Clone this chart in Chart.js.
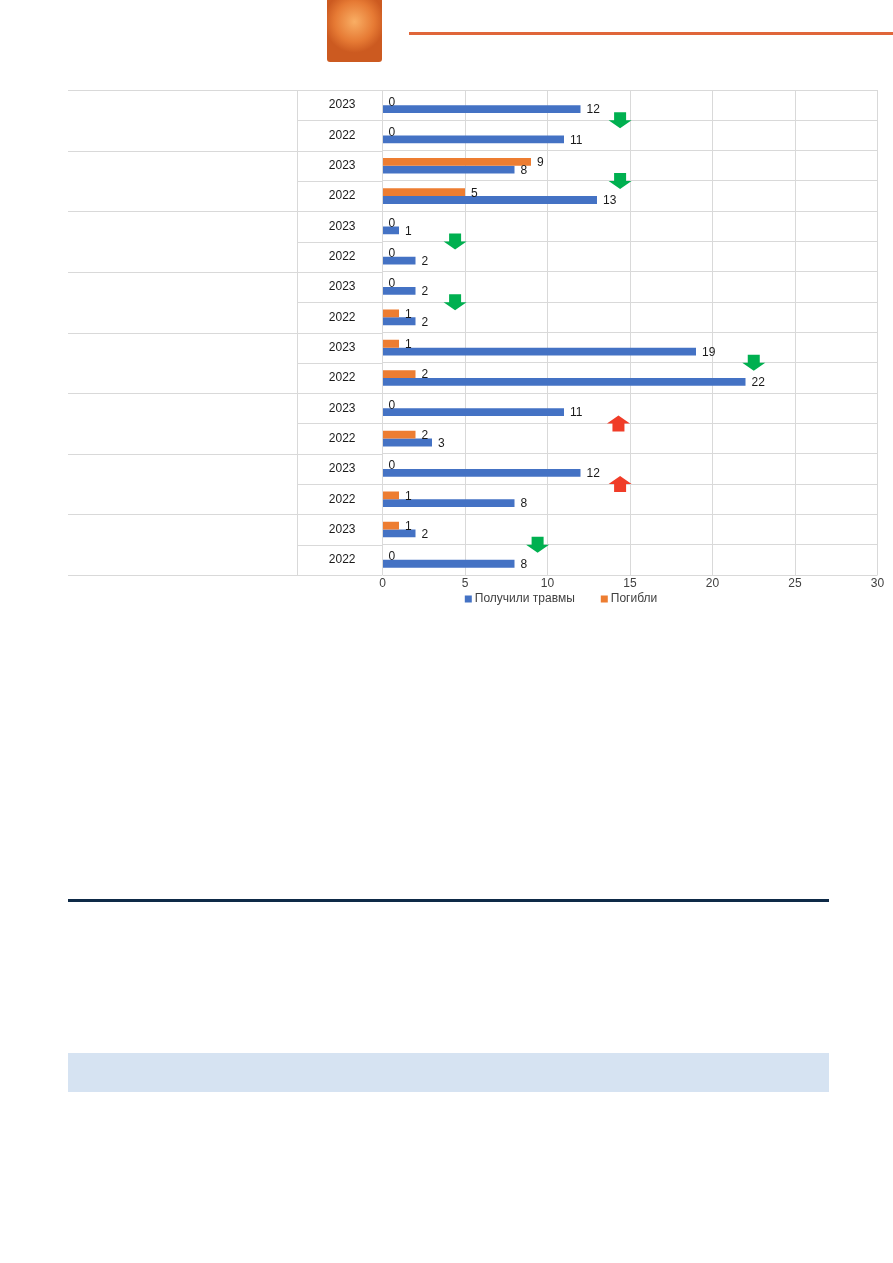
<!DOCTYPE html>
<html lang="ru">
<head>
<meta charset="utf-8">
<title>Получили травмы и погибли, 2022–2023</title>
<script src="https://cdn.jsdelivr.net/npm/chart.js@4/dist/chart.umd.min.js"></script>
<style>
  html, body { margin: 0; padding: 0; background: #fff; }
  body { width: 893px; height: 1263px; position: relative; overflow: hidden; }
  .tab {
    position: absolute; left: 327px; top: 0; width: 55px; height: 62px;
    border-radius: 0 0 3px 3px;
    background: radial-gradient(ellipse 55% 50% at 50% 35%, #f9ae64 0%, #e67a34 65%, #cc5a20 100%);
  }
  .rule-top { position: absolute; left: 409px; top: 32px; width: 484px; height: 3px; background: #e0663a; }
  .rule-navy { position: absolute; left: 68px; top: 899px; width: 761px; height: 3px; background: #0e2a47; }
  .band { position: absolute; left: 68px; top: 1053px; width: 761px; height: 39px; background: #d6e3f2; }
  .chart-box { position: absolute; left: 0; top: 0; width: 893px; height: 620px; }
</style>
</head>
<body>
<div class="tab"></div>
<div class="rule-top"></div>
<div class="chart-box"><canvas id="chart"></canvas></div>
<div class="rule-navy"></div>
<div class="band"></div>

<script>
// rows top to bottom, two years per group
const YEARS = ['2023', '2022', '2023', '2022', '2023', '2022', '2023', '2022',
               '2023', '2022', '2023', '2022', '2023', '2022', '2023', '2022'];
const INJURED = [12, 11, 8, 13, 1, 2, 2, 2, 19, 22, 11, 3, 12, 8, 2, 8];
const DIED    = [0, 0, 9, 5, 0, 0, 0, 1, 1, 2, 0, 2, 0, 1, 1, 0];

// trend arrow for each group, and where along the axis it sits
const TREND    = ['down', 'down', 'down', 'down', 'down', 'up', 'up', 'down'];
const TREND_AT = [14.4, 14.4, 4.4, 4.4, 22.5, 14.3, 14.4, 9.4];

const X_TICKS = [0, 5, 10, 15, 20, 25, 30];

const FONT = '"Liberation Sans", Arial, sans-serif';
Chart.defaults.font.family = FONT;

const tableLines = {
    id: 'tableLines',
    beforeDatasetsDraw(chart) {
        const { ctx, chartArea: a } = chart;
        const rowH = (a.bottom - a.top) / YEARS.length;
        const colLeft = 68, colSplit = 297;
        ctx.save();
        ctx.strokeStyle = '#d9d9d9';
        ctx.lineWidth = 1;
        ctx.beginPath();
        for (let i = 0; i <= YEARS.length; i++) {
            const py = Math.round(a.top + i * rowH) + 0.5;
            ctx.moveTo(i % 2 ? colSplit : colLeft, py);
            ctx.lineTo(a.left, py);
        }
        ctx.moveTo(colSplit + 0.5, a.top);
        ctx.lineTo(colSplit + 0.5, a.bottom);
        ctx.stroke();
        ctx.restore();
    }
};

const valueLabels = {
    id: 'valueLabels',
    afterDatasetsDraw(chart) {
        const { ctx } = chart;
        ctx.save();
        ctx.font = '12px ' + FONT;
        ctx.fillStyle = '#1a1a1a';
        ctx.textAlign = 'left';
        ctx.textBaseline = 'middle';
        chart.data.datasets.forEach((ds, i) => {
            chart.getDatasetMeta(i).data.forEach((bar, j) => {
                ctx.fillText(String(ds.data[j]), bar.x + 6, bar.y + 1);
            });
        });
        ctx.restore();
    }
};

const trendArrows = {
    id: 'trendArrows',
    afterDatasetsDraw(chart) {
        const { ctx, scales: { x, y } } = chart;
        ctx.save();
        TREND.forEach((dir, g) => {
            const cx = x.getPixelForValue(TREND_AT[g]);
            const cy = (y.getPixelForValue(2 * g) + y.getPixelForValue(2 * g + 1)) / 2;
            const s = dir === 'down' ? 1 : -1;
            ctx.fillStyle = dir === 'down' ? '#00b050' : '#f03c28';
            ctx.beginPath();
            ctx.moveTo(cx - 6, cy - 8 * s);
            ctx.lineTo(cx + 6, cy - 8 * s);
            ctx.lineTo(cx + 6, cy);
            ctx.lineTo(cx + 11.5, cy);
            ctx.lineTo(cx, cy + 8 * s);
            ctx.lineTo(cx - 11.5, cy);
            ctx.lineTo(cx - 6, cy);
            ctx.closePath();
            ctx.fill();
        });
        ctx.restore();
    }
};

// legend drawn by hand: Excel-like spacing
const bottomLegend = {
    id: 'bottomLegend',
    afterDraw(chart) {
        const { ctx, chartArea: a } = chart;
        const ds = chart.data.datasets;
        const items = [ds[1], ds[0]];
        const box = 7, gapIn = 3, gapOut = 26;
        ctx.save();
        ctx.font = '12px ' + FONT;
        const widths = items.map(d => ctx.measureText(d.label).width);
        const total = widths.reduce((s, w) => s + box + gapIn + w, 0) + gapOut * (items.length - 1);
        let px = 561 - total / 2;
        const py = a.bottom + 24;
        ctx.textAlign = 'left';
        ctx.textBaseline = 'middle';
        items.forEach((d, i) => {
            ctx.fillStyle = d.backgroundColor;
            ctx.fillRect(px, py - 3.5, box, box);
            ctx.fillStyle = '#404040';
            ctx.fillText(d.label, px + box + gapIn, py);
            px += box + gapIn + widths[i] + gapOut;
        });
        ctx.restore();
    }
};

new Chart(document.getElementById('chart'), {
    type: 'bar',
    data: {
        labels: YEARS,
        datasets: [
            { label: 'Погибли', data: DIED, backgroundColor: '#ed7d31' },
            { label: 'Получили травмы', data: INJURED, backgroundColor: '#4472c4' },
        ]
    },
    options: {
        indexAxis: 'y',
        responsive: true,
        maintainAspectRatio: false,
        animation: false,
        categoryPercentage: 0.515,
        barPercentage: 1,
        layout: { padding: { top: 90, left: 297, right: 15.5, bottom: 30 } },
        scales: {
            x: {
                min: 0,
                max: 30,
                afterBuildTicks: s => { s.ticks = X_TICKS.map(v => ({ value: v })); },
                afterFit: s => { s.height = 15; },
                grid: { color: '#d9d9d9', drawTicks: false },
                border: { display: false },
                ticks: { padding: 1, color: '#404040', font: { family: FONT, size: 12 } },
            },
            y: {
                afterFit: s => { s.width = 85.5; },
                grid: { color: '#d9d9d9', drawTicks: false, offset: true },
                border: { display: false },
                ticks: { padding: 27, color: '#1a1a1a', font: { family: FONT, size: 12 } },
            },
        },
        plugins: {
            legend: { display: false },
            tooltip: { enabled: false },
        }
    },
    plugins: [tableLines, valueLabels, trendArrows, bottomLegend]
});
</script>
</body>
</html>
